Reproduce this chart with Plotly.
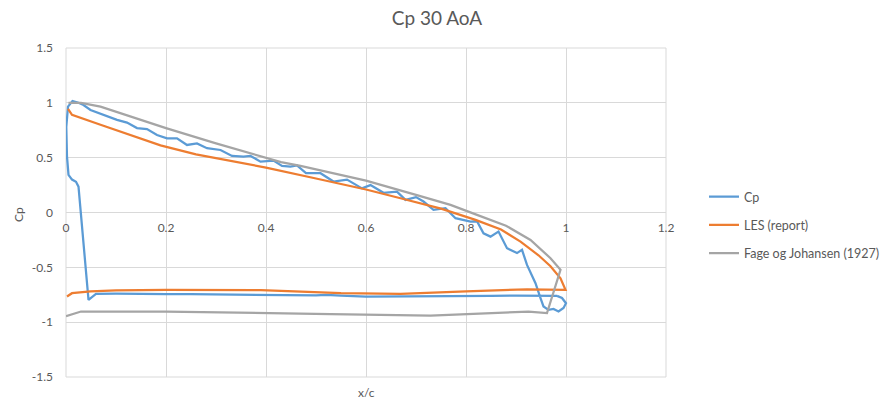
import plotly.graph_objects as go

# ---- Data ----
cp_x = [0.982, 0.95, 0.90, 0.85, 0.80, 0.75, 0.70, 0.662, 0.625, 0.615, 0.60, 0.55, 0.52, 0.50,
        0.45, 0.40, 0.35, 0.30, 0.25, 0.20, 0.15, 0.13, 0.10, 0.06, 0.045,
        0.025, 0.02, 0.012, 0.005, 0.002, 0.0006, 0.004, 0.013, 0.025, 0.035, 0.049, 0.075, 0.09,
        0.102, 0.122, 0.142, 0.162, 0.182, 0.202, 0.222, 0.242, 0.262, 0.282, 0.309, 0.332, 0.355,
        0.369, 0.389, 0.415, 0.432, 0.449, 0.462, 0.48, 0.509, 0.535, 0.562, 0.592, 0.609, 0.635,
        0.662, 0.679, 0.70, 0.715, 0.735, 0.759, 0.779, 0.809, 0.822, 0.835, 0.849, 0.865, 0.882,
        0.902, 0.912, 0.922, 0.939, 0.949, 0.955, 0.965, 0.975, 0.985, 0.995, 1.0, 0.992, 0.982]
cp_y = [-0.760, -0.758, -0.758, -0.760, -0.762, -0.765, -0.767, -0.767, -0.770, -0.772, -0.766,
        -0.758, -0.752, -0.755, -0.752, -0.750, -0.748, -0.746, -0.745, -0.745, -0.742, -0.735,
        -0.740, -0.742, -0.797,
        0.236, 0.28, 0.30, 0.343, 0.51, 0.78, 0.965, 1.017, 1.0, 0.98, 0.935, 0.89, 0.87,
        0.845, 0.82, 0.77, 0.76, 0.707, 0.677, 0.677, 0.616, 0.63, 0.586, 0.57, 0.516, 0.51,
        0.516, 0.464, 0.473, 0.425, 0.418, 0.43, 0.36, 0.358, 0.282, 0.30, 0.22, 0.25, 0.18,
        0.19, 0.115, 0.14, 0.10, 0.024, 0.04, -0.052, -0.083, -0.08, -0.19, -0.22, -0.174, -0.325,
        -0.37, -0.34, -0.478, -0.645, -0.78, -0.857, -0.888, -0.88, -0.903, -0.87, -0.827, -0.78, -0.76]

les_x = [0.004, 0.012, 0.069, 0.13, 0.189, 0.26, 0.335, 0.40, 0.50, 0.60, 0.669, 0.75, 0.819,
         0.87, 0.909, 0.945, 0.969, 0.989, 0.999,
         0.99, 0.922, 0.80, 0.669, 0.55, 0.39, 0.20, 0.10, 0.049, 0.012, 0.002]
les_y = [0.944, 0.89, 0.80, 0.705, 0.612, 0.53, 0.464, 0.41, 0.31, 0.21, 0.13, 0.035, -0.067,
         -0.155, -0.265, -0.39, -0.49, -0.60, -0.706,
         -0.706, -0.70, -0.72, -0.742, -0.735, -0.708, -0.705, -0.71, -0.72, -0.736, -0.766]

fj_x = [0.005, 0.03, 0.069, 0.2, 0.3, 0.43, 0.469, 0.6, 0.7, 0.769, 0.822, 0.88, 0.929, 0.969,
        0.989, 0.962, 0.925, 0.8, 0.729, 0.529, 0.39, 0.2, 0.03, 0.0]
fj_y = [1.0, 1.0, 0.965, 0.77, 0.63, 0.46, 0.425, 0.29, 0.16, 0.069, -0.022, -0.12, -0.25, -0.417,
        -0.523, -0.918, -0.903, -0.925, -0.94, -0.927, -0.918, -0.903, -0.903, -0.945]

series_names = ["Cp", "LES (report)", "Fage og Johansen (1927)"]
series_colors = ["#5B9BD5", "#ED7D31", "#A5A5A5"]

x_ticks = [0, 0.2, 0.4, 0.6, 0.8, 1, 1.2]
x_ticklabels = ["0", "0.2", "0.4", "0.6", "0.8", "1", "1.2"]
y_ticks = [-1.5, -1, -0.5, 0, 0.5, 1, 1.5]
y_ticklabels = ["-1.5", "-1", "-0.5", "0", "0.5", "1", "1.5"]

title_text = "Cp 30 AoA"
x_title = "x/c"
y_title = "Cp"

FONT = "Lato, 'Liberation Sans', sans-serif"
TXT = "#595959"
GRID = "#D9D9D9"

fig = go.Figure()
for name, xs, ys, col in zip(series_names, [cp_x, les_x, fj_x], [cp_y, les_y, fj_y], series_colors):
    fig.add_trace(go.Scatter(x=xs, y=ys, mode="lines", name=name, legendgroup=name,
                             line=dict(color=col, width=2.25)))

fig.update_layout(
    width=886, height=400,
    margin=dict(l=66, r=220, t=48, b=23),
    paper_bgcolor="white", plot_bgcolor="white",
    font=dict(family=FONT, size=12, color=TXT),
    title=dict(text=title_text, xref="container", x=437 / 886, xanchor="center",
               yref="container", y=1 - 18 / 400, yanchor="middle",
               font=dict(family=FONT, size=19, color=TXT)),
    showlegend=True,
    legend=dict(xref="container", x=704 / 886, xanchor="left",
                yref="container", y=1 - 182 / 400, yanchor="top",
                font=dict(family=FONT, size=12.5, color=TXT), tracegroupgap=9,
                bgcolor="rgba(0,0,0,0)"),
    xaxis=dict(range=[0, 1.2], tickvals=x_ticks, ticktext=x_ticklabels,
               showgrid=True, gridcolor=GRID, gridwidth=1, zeroline=False,
               showline=False, ticks="", anchor="free", position=0.5,
               tickfont=dict(family=FONT, size=12, color=TXT), ticklabelstandoff=6),
    yaxis=dict(range=[-1.5, 1.5], tickvals=y_ticks, ticktext=y_ticklabels,
               showgrid=True, gridcolor=GRID, gridwidth=1, zeroline=False,
               showline=False, ticks="", ticklabelstandoff=12,
               tickfont=dict(family=FONT, size=12, color=TXT)),
    shapes=[dict(type="rect", xref="paper", yref="paper", x0=0, x1=1, y0=0, y1=1,
                 line=dict(color=GRID, width=1), layer="below")],
    annotations=[
        dict(text=x_title, xref="paper", yref="paper", x=0.5, y=(377 - 392) / 329,
             xanchor="center", yanchor="middle", showarrow=False,
             font=dict(family=FONT, size=12, color=TXT)),
        dict(text=y_title, xref="paper", yref="paper", x=(18 - 66) / 600, y=(377 - 215) / 329,
             xanchor="center", yanchor="middle", showarrow=False, textangle=-90,
             font=dict(family=FONT, size=12, color=TXT)),
    ],
)

# remove the browser's default 8px body margin so the figure sits at the window's corner
fig.write_html("out.html", config={"displayModeBar": False},
               post_script="document.body.style.margin='0';")
